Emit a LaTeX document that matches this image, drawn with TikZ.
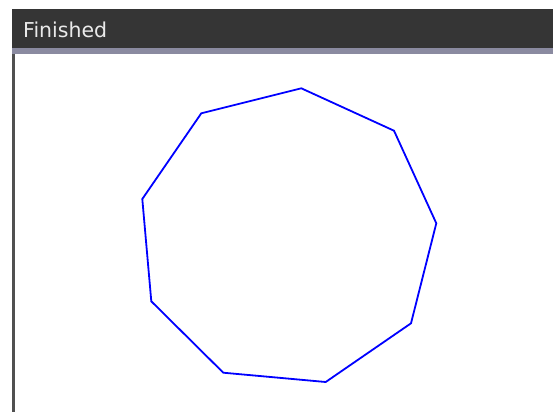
\documentclass[tikz,border=0pt]{standalone}
\usepackage{fontspec}
\setmainfont{DejaVu Sans}
\definecolor{barbg}{HTML}{353535}
\definecolor{stripc}{HTML}{8A8AA0}
\definecolor{edgec}{HTML}{505050}
\definecolor{titlec}{HTML}{EAEAEA}
\begin{document}
\begin{tikzpicture}[x=1pt,y=-1pt,
  poly/.style={draw=blue,line width=1.8pt,line join=miter},
  titletext/.style={anchor=base west,inner sep=0pt,text=titlec,font=\fontsize{20.5}{23}\selectfont}]
\useasboundingbox (0,0) rectangle (553,412);
\fill[white] (0,0) rectangle (553,412);
\fill[barbg] (12,9) rectangle (553,48);
\fill[stripc] (12,48) rectangle (553,54);
\fill[edgec] (12,54) rectangle (14.5,412);
\node[titletext] (title) at (23,37.5) {Finished};
\coordinate (v1) at (301.3,88.3);
\coordinate (v2) at (394,130.7);
\coordinate (v3) at (436.3,223.3);
\coordinate (v4) at (411,323.3);
\coordinate (v5) at (325.7,382);
\coordinate (v6) at (223.3,372.7);
\coordinate (v7) at (151.3,301.3);
\coordinate (v8) at (142.3,199);
\coordinate (v9) at (201.3,113.3);
\draw[poly] (v1) -- (v2) -- (v3) -- (v4) -- (v5) -- (v6) -- (v7) -- (v8) -- (v9) -- cycle;
\end{tikzpicture}
\end{document}
